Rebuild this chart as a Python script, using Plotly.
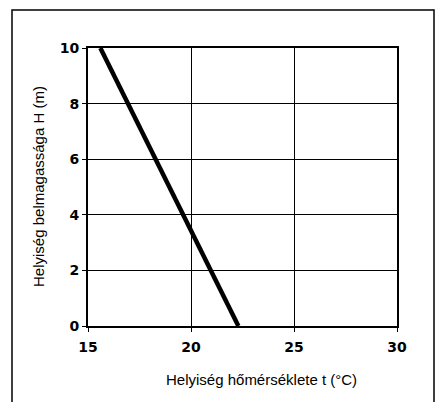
import plotly.graph_objects as go

# Data
temperature = [22.3, 15.6]   # t (°C)
height = [0, 10]             # H (m)
x_ticks = [15, 20, 25, 30]
y_ticks = [0, 2, 4, 6, 8, 10]
x_title = "Helyiség hőmérséklete t (°C)"
y_title = "Helyiség belmagassága H (m)"

W, H = 438, 402
L, R, T, B = 88, 41, 48, 76
pw, ph = W - L - R, H - T - B

def px(x):
    return (x - L) / pw

def py(y):
    return (H - B - y) / ph

fig = go.Figure()
fig.add_trace(go.Scatter(x=temperature, y=height, mode="lines",
                         line=dict(color="black", width=4.5), showlegend=False))

axis_common = dict(showgrid=True, gridcolor="black", gridwidth=1,
                   showline=True, linecolor="black", linewidth=2, mirror=True,
                   ticks="outside", ticklen=4, tickcolor="black", tickwidth=1,
                   zeroline=False,
                   tickfont=dict(family="DejaVu Sans", size=14, color="black", weight="bold"))

fig.update_xaxes(range=[15, 30], tickvals=x_ticks, ticklabelstandoff=3, **axis_common)
fig.update_yaxes(range=[0, 10], tickvals=y_ticks, **axis_common)

fig.add_annotation(text=x_title, x=px(261), y=py(379), xref="paper", yref="paper",
                   showarrow=False, xanchor="center", yanchor="middle",
                   font=dict(family="Liberation Sans", size=15, color="black"))
fig.add_annotation(text=y_title, x=px(38), y=py(187), xref="paper", yref="paper",
                   showarrow=False, xanchor="center", yanchor="middle", textangle=-90,
                   font=dict(family="Liberation Sans", size=15, color="black"))

fig.add_shape(type="rect", xref="paper", yref="paper",
              x0=px(12), x1=px(434), y0=py(412), y1=py(10),
              line=dict(color="black", width=1.5), fillcolor="rgba(0,0,0,0)")

fig.update_layout(width=W, height=H, margin=dict(l=L, r=R, t=T, b=B),
                  plot_bgcolor="white", paper_bgcolor="white")

fig.write_html("out.html", post_script="document.body.style.margin='0';",
               config={"displayModeBar": False})
